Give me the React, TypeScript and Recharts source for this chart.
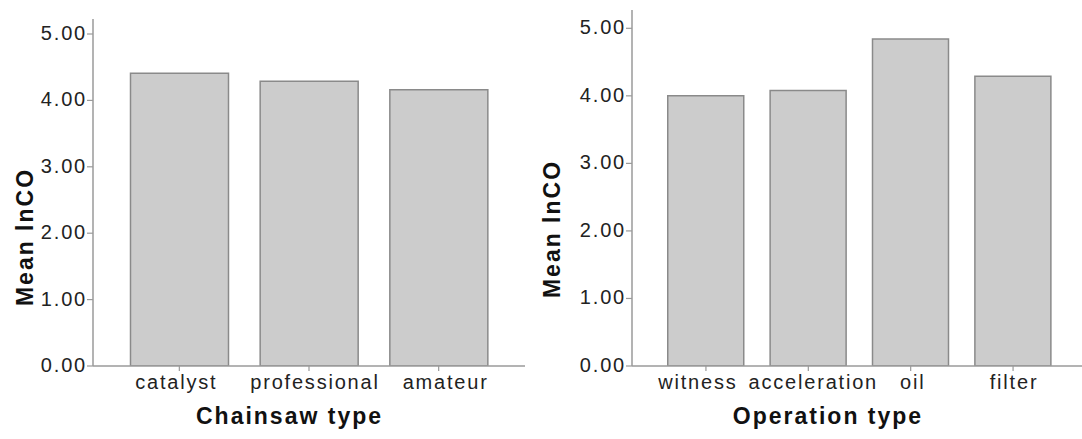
import React from 'react';
import { BarChart, Bar, XAxis, YAxis, Label } from 'recharts';

const chainsawTypes = ['catalyst', 'professional', 'amateur'];
const chainsawMeans = [4.41, 4.29, 4.16];
const operationTypes = ['witness', 'acceleration', 'oil', 'filter'];
const operationMeans = [4.0, 4.08, 4.84, 4.29];
const yTicks = [0, 1, 2, 3, 4, 5];

const FONT = '"Liberation Sans", Arial, Helvetica, sans-serif';
const GRID = '#9a9a9a';

// small horizontal nudges of the category labels, as in the original rendering
const labelNudge: Record<string, number> = {
  catalyst: -3,
  professional: 6,
  amateur: 7,
  witness: -8,
  acceleration: 5,
  oil: 2,
  filter: 1,
};

const chainsawData = chainsawTypes.map((name, i) => ({ name, value: chainsawMeans[i] }));
const operationData = operationTypes.map((name, i) => ({ name, value: operationMeans[i] }));

const YTick = (props: any) => {
  const { x, y, payload } = props;
  return (
    <text x={x} y={y} dy={6} textAnchor="end" fontSize={20} letterSpacing={1.8} fill="#222" fontFamily={FONT}>
      {Number(payload.value).toFixed(2)}
    </text>
  );
};

const XTick = (props: any) => {
  const { x, y, payload } = props;
  const nudge = labelNudge[payload.value] || 0;
  return (
    <text x={x + nudge} y={y} dy={18} textAnchor="middle" fontSize={20} letterSpacing={1.8} fill="#222" fontFamily={FONT}>
      {payload.value}
    </text>
  );
};

type PanelProps = {
  data: { name: string; value: number }[];
  left: number;
  width: number;
  margin: { top: number; right: number; bottom: number; left: number };
  yMax: number;
  xTitle: string;
  xTitleDx: number;
  yTitleX: number;
  yTitleY: number;
  gap: number;
  pad: number;
};

const Panel = (p: PanelProps) => (
  <div style={{ position: 'absolute', left: p.left, top: 0 }}>
    <BarChart width={p.width} height={439} data={p.data} margin={p.margin} barCategoryGap={p.gap}>
      <XAxis
        dataKey="name"
        height={60}
        padding={{ left: p.pad, right: p.pad }}
        tick={<XTick />}
        tickSize={5}
        tickMargin={0}
        axisLine={{ stroke: GRID, strokeWidth: 1.5 }}
        tickLine={{ stroke: GRID, strokeWidth: 1.2 }}
        interval={0}
      >
        <Label
          value={p.xTitle}
          content={(lp: any) => {
            const vb = lp.viewBox || { x: 0, y: 0, width: 0 };
            return (
              <text
                x={vb.x + vb.width / 2 + p.xTitleDx}
                y={vb.y + 58}
                textAnchor="middle"
                fontSize={23}
                fontWeight="bold"
                letterSpacing={2}
                fill="#111"
                fontFamily={FONT}
              >
                {p.xTitle}
              </text>
            );
          }}
        />
      </XAxis>
      <XAxis
        xAxisId="top"
        orientation="top"
        dataKey="name"
        height={0}
        tick={false}
        tickLine={false}
        axisLine={{ stroke: GRID, strokeWidth: 1.5 }}
      />
      <YAxis
        width={60}
        domain={[0, p.yMax]}
        ticks={yTicks}
        type="number"
        allowDataOverflow
        tick={<YTick />}
        tickSize={6}
        tickMargin={0}
        axisLine={{ stroke: GRID, strokeWidth: 1.5 }}
        tickLine={{ stroke: GRID, strokeWidth: 1.2 }}
        interval={0}
      >
        <Label
          value="Mean lnCO"
          content={() => (
            <text
              x={p.yTitleX}
              y={p.yTitleY}
              transform={`rotate(-90, ${p.yTitleX}, ${p.yTitleY})`}
              textAnchor="middle"
              dominantBaseline="central"
              fontSize={23}
              fontWeight="bold"
              letterSpacing={2}
              fill="#111"
              fontFamily={FONT}
            >
              Mean lnCO
            </text>
          )}
        />
      </YAxis>
      <YAxis
        yAxisId="right"
        orientation="right"
        width={0}
        domain={[0, p.yMax]}
        type="number"
        tick={false}
        tickLine={false}
        axisLine={{ stroke: GRID, strokeWidth: 1.5 }}
      />
      <Bar dataKey="value" fill="#cccccc" stroke="#8a8a8a" strokeWidth={1.5} isAnimationActive={false} />
    </BarChart>
  </div>
);

export default function App() {
  return (
    <div
      style={{
        position: 'absolute',
        left: 0,
        top: 0,
        width: 1082,
        height: 439,
        overflow: 'hidden',
        background: '#fff',
      }}
    >
      <Panel
        data={chainsawData}
        left={0}
        width={540}
        margin={{ top: 19, right: 15, bottom: 13, left: 33 }}
        yMax={5.226}
        xTitle="Chainsaw type"
        xTitleDx={-19.5}
        yTitleX={25}
        yTitleY={237}
        gap={16}
        pad={21.5}
      />
      <Panel
        data={operationData}
        left={540}
        width={560}
        margin={{ top: 10, right: 13, bottom: 13, left: 32 }}
        yMax={5.271}
        xTitle="Operation type"
        xTitleDx={-31.5}
        yTitleX={12}
        yTitleY={229}
        gap={13}
        pad={22.75}
      />
    </div>
  );
}
